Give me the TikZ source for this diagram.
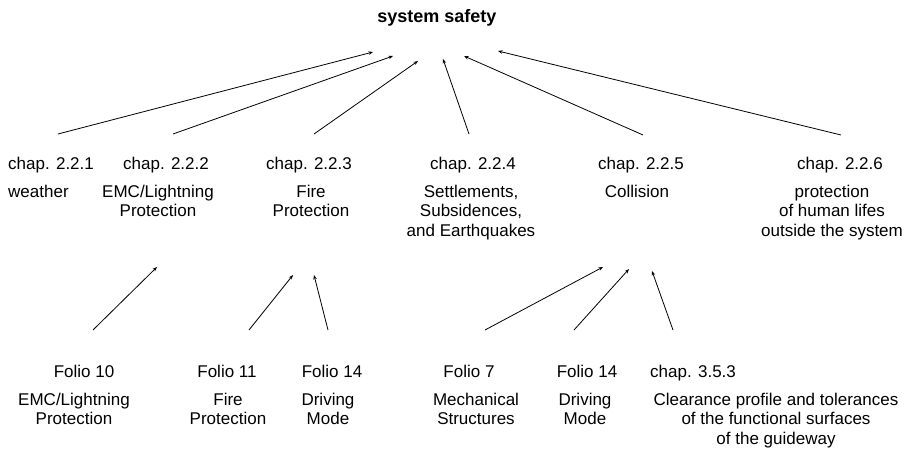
\documentclass[tikz,border=0pt]{standalone}
\usepackage{fontspec}
\setmainfont{Liberation Sans}
\usetikzlibrary{arrows.meta}

\begin{document}
\begin{tikzpicture}[
    x=1pt, y=-1pt,
    head/.style={inner sep=0pt, anchor=north, font=\fontsize{17}{19.4}\selectfont},
    desc/.style={head, align=center},
    root/.style={inner sep=0pt, anchor=base, font=\fontsize{18}{20}\selectfont\bfseries},
    up/.style={-{Stealth[length=4.5pt,width=3.5pt]}, line width=0.8pt}
]
\useasboundingbox (0,0) rectangle (913,449);

% Root node
\node[root] (root) at (437,23) {system safety};

% Chapters (upper row)
\node[head, anchor=north west] (c1) at (8,157) {chap. 2.2.1};
\node[head] (c2) at (166,157) {chap. 2.2.2};
\node[head] (c3) at (309,157) {chap. 2.2.3};
\node[head] (c4) at (473,157) {chap. 2.2.4};
\node[head] (c5) at (641,157) {chap. 2.2.5};
\node[head] (c6) at (840,157) {chap. 2.2.6};

\node[desc, anchor=north west, align=left] (d1) at (8,185) {weather};
\node[desc] (d2) at (158,185) {EMC/Lightning\\Protection};
\node[desc] (d3) at (311,185) {Fire\\Protection};
\node[desc] (d4) at (471,185) {Settlements,\\Subsidences,\\and Earthquakes};
\node[desc] (d5) at (637,185) {Collision};
\node[desc] (d6) at (832,185) {protection\\of human lifes\\outside the system};

% Folios (lower row)
\node[head] (f1) at (84,365) {Folio 10};
\node[head] (f2) at (227,365) {Folio 11};
\node[head] (f3) at (332,365) {Folio 14};
\node[head] (f4) at (469,365) {Folio 7};
\node[head] (f5) at (587,365) {Folio 14};
\node[head, anchor=north west] (f6) at (650,365) {chap. 3.5.3};

\node[desc] (e1) at (74,393) {EMC/Lightning\\Protection};
\node[desc] (e2) at (228,393) {Fire\\Protection};
\node[desc] (e3) at (328,393) {Driving\\Mode};
\node[desc] (e4) at (476,393) {Mechanical\\Structures};
\node[desc] (e5) at (585,393) {Driving\\Mode};
\node[desc] (e6) at (776,393) {Clearance profile and tolerances\\of the functional surfaces\\of the guideway};

% Arrow ends
\coordinate (s1) at (58,134);  \coordinate (t1) at (373,52);
\coordinate (s2) at (173,134); \coordinate (t2) at (393,56);
\coordinate (s3) at (314,134); \coordinate (t3) at (418,61);
\coordinate (s4) at (469,134); \coordinate (t4) at (443,59);
\coordinate (s5) at (643,135); \coordinate (t5) at (464,56);
\coordinate (s6) at (841,135); \coordinate (t6) at (498,51);

\coordinate (u1) at (93,330);  \coordinate (v1) at (157,267);
\coordinate (u2) at (249,330); \coordinate (v2) at (293,275);
\coordinate (u3) at (328,330); \coordinate (v3) at (314,275);
\coordinate (u4) at (485,330); \coordinate (v4) at (603,267);
\coordinate (u5) at (574,330); \coordinate (v5) at (629,269);
\coordinate (u6) at (673,330); \coordinate (v6) at (652,271);

% Edges
\foreach \i in {1,...,6} {
    \draw[up] (s\i) -- (t\i);
    \draw[up] (u\i) -- (v\i);
}

\end{tikzpicture}
\end{document}
